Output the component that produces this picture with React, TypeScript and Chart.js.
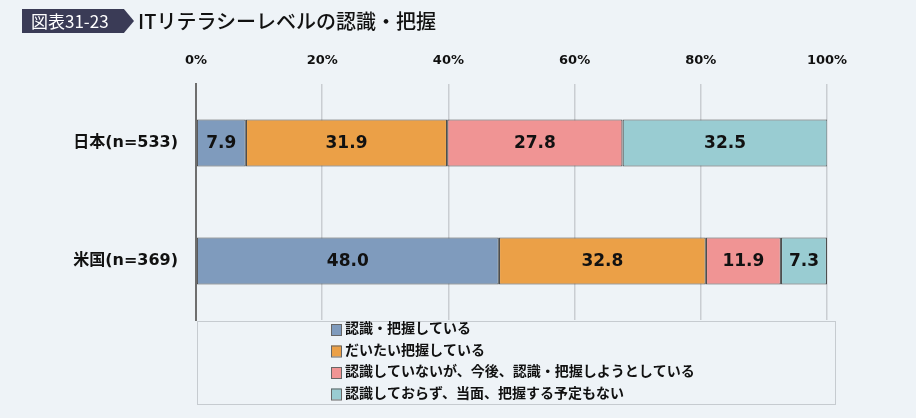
import { useEffect, useRef } from "react"
import { Chart, registerables } from "chart.js"

Chart.register(...registerables)

const categories = ["日本(n=533)", "米国(n=369)"]
const seriesNames = [
  "認識・把握している",
  "だいたい把握している",
  "認識していないが、今後、認識・把握しようとしている",
  "認識しておらず、当面、把握する予定もない",
]
const aware = [7.9, 48.0]
const roughly = [31.9, 32.8]
const planning = [27.8, 11.9]
const noPlan = [32.5, 7.3]
const tickLabels = ["0%", "20%", "40%", "60%", "80%", "100%"]

const colors = ["#7f9bbd", "#eba047", "#f09494", "#99ccd2"]
const LATIN = '"DejaVu Sans", "Noto Sans CJK JP", sans-serif'
const JP = '"Noto Sans CJK JP", sans-serif'

const valueLabels = {
  id: "valueLabels",
  afterDatasetsDraw(chart: Chart) {
    const ctx = chart.ctx
    ctx.save()
    ctx.font = `bold 17px ${LATIN}`
    ctx.fillStyle = "#111"
    ctx.textAlign = "center"
    ctx.textBaseline = "middle"
    chart.data.datasets.forEach((ds, i) => {
      const meta = chart.getDatasetMeta(i)
      meta.data.forEach((el, j) => {
        const { x, y, base } = el.getProps(["x", "y", "base"], true) as any
        const v = ds.data[j] as number
        ctx.fillText(v.toFixed(1), (x + base) / 2, y + 1)
      })
    })
    ctx.restore()
  },
}

const boxLegend = {
  id: "boxLegend",
  afterDraw(chart: Chart) {
    const ctx = chart.ctx
    const area = chart.chartArea
    const left = area.left + 1
    const top = area.bottom + 1
    ctx.save()
    ctx.strokeStyle = "#c6cbd0"
    ctx.lineWidth = 1
    ctx.strokeRect(left + 0.5, top + 0.5, 638, 83)
    ctx.font = `bold 14px ${JP}`
    ctx.textBaseline = "middle"
    ctx.textAlign = "left"
    chart.data.datasets.forEach((ds, i) => {
      const y = top + 7 + i * 21.5
      ctx.fillStyle = ds.backgroundColor as string
      ctx.fillRect(left + 134, y - 4, 10, 11)
      ctx.strokeStyle = "#666"
      ctx.strokeRect(left + 134.5, y - 3.5, 10, 11)
      ctx.fillStyle = "#111"
      ctx.fillText(ds.label as string, left + 148, y)
    })
    ctx.restore()
  },
}

function BarChart() {
  const chartRef = useRef<HTMLCanvasElement>(null)
  const chartInstance = useRef<Chart | null>(null)

  useEffect(() => {
    if (!chartRef.current) return
    if (chartInstance.current) chartInstance.current.destroy()
    const ctx = chartRef.current.getContext("2d")
    if (!ctx) return

    const series = [aware, roughly, planning, noPlan]

    chartInstance.current = new Chart(ctx, {
      type: "bar",
      data: {
        labels: categories,
        datasets: series.map((data, i) => ({
          label: seriesNames[i],
          data,
          backgroundColor: colors[i],
          borderColor: "#4e4e4e",
          borderWidth: 1.2,
          borderSkipped: false,
          categoryPercentage: 1,
          barPercentage: 0.4,
        })),
      },
      options: {
        indexAxis: "y",
        animation: false,
        responsive: true,
        maintainAspectRatio: false,
        layout: { padding: { top: 0, right: 89, bottom: 98, left: 0 } },
        scales: {
          x: {
            position: "top",
            stacked: true,
            min: 0,
            max: 100,
            ticks: {
              stepSize: 20,
              padding: 16,
              color: "#111",
              font: { family: LATIN, size: 13, weight: "bold" },
              callback: (_v, i) => tickLabels[i],
            },
            grid: { color: "#c9cdd2", drawTicks: false, lineWidth: 1.5 },
            border: { display: false },
            afterFit: (scale) => {
              scale.height = 84
            },
          },
          y: {
            stacked: true,
            ticks: {
              padding: 18,
              color: "#111",
              font: { family: LATIN, size: 16, weight: "bold" },
            },
            grid: { display: false, drawTicks: false },
            border: { display: true, color: "#6e6e6e", width: 2 },
            afterFit: (scale) => {
              scale.width = 196
            },
          },
        },
        plugins: {
          legend: { display: false },
          tooltip: { enabled: false },
        },
      },
      plugins: [valueLabels, boxLegend],
    })

    return () => {
      if (chartInstance.current) {
        chartInstance.current.destroy()
        chartInstance.current = null
      }
    }
  }, [])

  return <canvas ref={chartRef} />
}

export default function App() {
  return (
    <div
      style={{
        position: "absolute",
        top: 0,
        left: 0,
        width: 916,
        height: 418,
        background: "#eef3f7",
        overflow: "hidden",
      }}
    >
      <div style={{ position: "absolute", inset: 0 }}>
        <BarChart />
      </div>
      <div
        style={{
          position: "absolute",
          left: 22,
          top: 9,
          width: 112,
          height: 24,
          background: "#3a3b56",
          clipPath: "polygon(0 0, 91% 0, 100% 50%, 91% 100%, 0 100%)",
          color: "#fff",
          fontFamily: JP,
          fontSize: 17,
          lineHeight: "24px",
          paddingLeft: 9,
          boxSizing: "border-box",
        }}
      >
        図表31-23
      </div>
      <div
        style={{
          position: "absolute",
          left: 138,
          top: 6,
          fontFamily: JP,
          fontSize: 20,
          lineHeight: "30px",
          color: "#111",
          fontWeight: 500,
        }}
      >
        ITリテラシーレベルの認識・把握
      </div>
    </div>
  )
}
